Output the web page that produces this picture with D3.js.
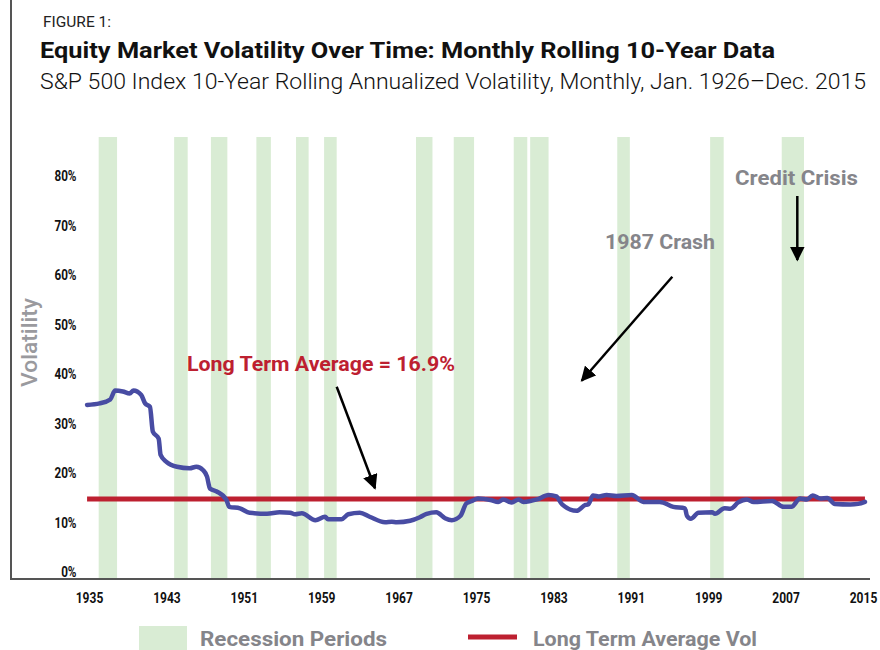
<!DOCTYPE html>
<html>
<head>
<meta charset="utf-8">
<script src="https://cdn.jsdelivr.net/npm/d3@7"></script>
<style>
  html, body { margin: 0; padding: 0; background: #fff; }
  svg { display: block; font-family: Roboto, "Noto Sans", sans-serif; }
</style>
</head>
<body>
<svg id="chart" width="880" height="650"></svg>
<script>
// ---------- DATA ----------
const xTickYears = [1935, 1943, 1951, 1959, 1967, 1975, 1983, 1991, 1999, 2007, 2015];
const yTickValues = [0, 0.1, 0.2, 0.3, 0.4, 0.5, 0.6, 0.7, 0.8];

const recessionStarts = [1936.0, 1943.8, 1947.6, 1952.3, 1956.4, 1959.3, 1968.8, 1972.7, 1978.9, 1980.6, 1989.6, 1999.2, 2006.6];
const recessionEnds   = [1937.9, 1945.2, 1949.3, 1953.8, 1957.7, 1960.6, 1970.5, 1974.8, 1980.3, 1982.5, 1990.9, 2000.6, 2008.9];

const volYears = [1934.8, 1936.1, 1937.2, 1937.7, 1938.5, 1939.2, 1939.6, 1940.4, 1940.8, 1941.3,
  1941.6, 1942.2, 1942.4, 1943.0, 1944.1, 1945.4, 1946.1, 1946.8, 1947.2, 1947.5,
  1948.2, 1949.2, 1949.5, 1950.6, 1951.6, 1953.4, 1954.7, 1955.8, 1956.3, 1957.0,
  1958.4, 1959.4, 1959.7, 1961.1, 1961.8, 1963.0, 1964.0, 1965.6, 1966.3, 1966.8,
  1968.2, 1969.2, 1969.9, 1970.9, 1971.8, 1972.5, 1973.4, 1974.0, 1974.6, 1975.2,
  1976.5, 1977.3, 1977.8, 1978.7, 1979.4, 1979.9, 1981.3, 1982.5, 1983.3, 1983.9,
  1985.4, 1986.3, 1986.6, 1987.1, 1987.7, 1988.5, 1989.5, 1991.1, 1992.3, 1994.0,
  1995.4, 1996.6, 1996.8, 1997.2, 1998.0, 1999.4, 1999.7, 2000.7, 2001.3, 2002.1,
  2003.0, 2003.7, 2005.6, 2006.8, 2007.6, 2008.5, 2009.2, 2009.8, 2010.6, 2011.3,
  2012.1, 2013.7, 2014.5, 2015.2];
const volValues = [33.7, 34.0, 34.8, 36.6, 36.4, 36.0, 36.6, 35.7, 34.0, 33.3,
  28.3, 26.9, 23.6, 22.2, 21.2, 20.9, 21.2, 20.5, 19.2, 16.8,
  16.2, 14.5, 13.1, 12.8, 11.9, 11.7, 12.0, 11.9, 11.6, 11.8,
  10.4, 11.1, 10.6, 10.6, 11.6, 11.9, 11.1, 10.0, 10.1, 10.0,
  10.3, 11.0, 11.7, 12.0, 10.8, 10.4, 11.3, 13.8, 14.3, 14.8,
  14.5, 14.1, 14.6, 14.0, 14.6, 14.1, 14.6, 15.5, 15.2, 13.6,
  12.3, 13.5, 13.6, 15.4, 15.2, 15.5, 15.3, 15.5, 14.1, 14.1,
  13.1, 12.8, 11.3, 10.7, 11.9, 12.0, 11.7, 12.8, 12.7, 14.0,
  14.6, 14.1, 14.3, 13.1, 13.1, 14.8, 14.6, 15.4, 14.8, 14.9,
  13.7, 13.6, 13.7, 14.1];

const avgLinePct = 14.7;          // drawn level of the average line
const avgLabel = "Long Term Average = 16.9%";

// ---------- LAYOUT ----------
const svg = d3.select("#chart");
const x = d3.scaleLinear().domain([1935, 2015]).range([89, 863]);
const y = d3.scaleLinear().domain([0, 0.8]).range([571.7, 175.7]);
const axisY = 579, barTop = 137;

const green = "#d9ecd4", blue = "#484ca3", red = "#bd2030", grey = "#85858a";

function squeeze(sel, f) {
  sel.each(function () {
    const w = this.getComputedTextLength();
    d3.select(this).attr("textLength", w * f).attr("lengthAdjust", "spacingAndGlyphs");
  });
}

// Titles
svg.append("text").attr("x", 43).attr("y", 26.5).attr("font-size", 15)
  .attr("fill", "#222").attr("textLength", 68).attr("lengthAdjust", "spacingAndGlyphs")
  .text("FIGURE 1:");
svg.append("text").attr("x", 40).attr("y", 57.5).attr("font-size", 21.5).attr("font-weight", 700)
  .attr("fill", "#111").attr("textLength", 735).attr("lengthAdjust", "spacingAndGlyphs")
  .text("Equity Market Volatility Over Time: Monthly Rolling 10-Year Data");
svg.append("text").attr("x", 40).attr("y", 89.3).attr("font-size", 21.5).attr("font-weight", 300)
  .attr("fill", "#111").attr("textLength", 826).attr("lengthAdjust", "spacingAndGlyphs")
  .text("S&P 500 Index 10-Year Rolling Annualized Volatility, Monthly, Jan. 1926\u2013Dec. 2015");

// Recession bars
const recessions = recessionStarts.map((s, i) => ({ s, e: recessionEnds[i] }));
svg.append("g").selectAll("rect").data(recessions).join("rect")
  .attr("x", d => x(d.s)).attr("width", d => x(d.e) - x(d.s))
  .attr("y", barTop).attr("height", axisY - barTop)
  .attr("fill", green);

// Frame lines
svg.append("line").attr("x1", 11).attr("x2", 11).attr("y1", 0).attr("y2", axisY)
  .attr("stroke", "#555").attr("stroke-width", 2);
svg.append("line").attr("x1", 10).attr("x2", 870).attr("y1", axisY).attr("y2", axisY)
  .attr("stroke", "#555").attr("stroke-width", 2);

// Y axis
const yAxis = d3.axisLeft(y).tickValues(yTickValues).tickSize(0).tickPadding(0)
  .tickFormat(d3.format(".0%"));
const gy = svg.append("g").attr("transform", "translate(76.5,0)").call(yAxis);
gy.select(".domain").remove();
gy.selectAll("text").attr("font-size", 15).attr("font-weight", 700).attr("fill", "#111")
  .attr("font-family", "Roboto, sans-serif").call(squeeze, 0.78);

// X axis
const xAxis = d3.axisBottom(x).tickValues(xTickYears).tickSize(0).tickPadding(13.5)
  .tickFormat(d3.format("d"));
const gx = svg.append("g").attr("transform", `translate(0,${axisY})`).call(xAxis);
gx.select(".domain").remove();
gx.selectAll("text").attr("font-size", 15).attr("font-weight", 700).attr("fill", "#111")
  .attr("font-family", "Roboto, sans-serif").call(squeeze, 0.8);

// Y title
svg.append("text").attr("transform", "translate(37,342.5) rotate(-90)")
  .attr("text-anchor", "middle").attr("font-size", 22).attr("font-weight", 500)
  .attr("fill", "#9a9a9e").attr("textLength", 89).attr("lengthAdjust", "spacingAndGlyphs")
  .text("Volatility");

// Average line
svg.append("line")
  .attr("x1", x(volYears[0])).attr("x2", x(volYears[volYears.length - 1]))
  .attr("y1", y(avgLinePct / 100)).attr("y2", y(avgLinePct / 100))
  .attr("stroke", red).attr("stroke-width", 5);

// Volatility line
const series = volYears.map((yr, i) => ({ yr, v: volValues[i] / 100 }));
svg.append("path").datum(series)
  .attr("d", d3.line().x(d => x(d.yr)).y(d => y(d.v)).curve(d3.curveMonotoneX))
  .attr("fill", "none").attr("stroke", blue).attr("stroke-width", 4.5)
  .attr("stroke-linejoin", "round").attr("stroke-linecap", "round");

// Arrowheads
svg.append("defs").append("marker").attr("id", "arrow")
  .attr("viewBox", "0 0 10 10").attr("refX", 9).attr("refY", 5)
  .attr("markerWidth", 6).attr("markerHeight", 6).attr("markerUnits", "strokeWidth")
  .attr("orient", "auto")
  .append("path").attr("d", "M0,0 L10,5 L0,10 z").attr("fill", "#000");

const arrows = [
  [336.7, 386.7, 375, 488.3],
  [672.3, 276.7, 581.7, 380.7],
  [797.3, 196, 797.3, 260]
];
svg.append("g").selectAll("line").data(arrows).join("line")
  .attr("x1", d => d[0]).attr("y1", d => d[1]).attr("x2", d => d[2]).attr("y2", d => d[3])
  .attr("stroke", "#000").attr("stroke-width", 2.5).attr("marker-end", "url(#arrow)");

// Annotations
svg.append("text").attr("x", 187).attr("y", 371).attr("font-size", 19.5).attr("font-weight", 700)
  .attr("fill", red).attr("textLength", 268).attr("lengthAdjust", "spacingAndGlyphs").text(avgLabel);
svg.append("text").attr("x", 605).attr("y", 249).attr("font-size", 19.5).attr("font-weight", 700)
  .attr("fill", grey).attr("textLength", 110).attr("lengthAdjust", "spacingAndGlyphs").text("1987 Crash");
svg.append("text").attr("x", 735).attr("y", 185).attr("font-size", 19.5).attr("font-weight", 700)
  .attr("fill", grey).attr("textLength", 123).attr("lengthAdjust", "spacingAndGlyphs").text("Credit Crisis");

// Legend
svg.append("rect").attr("x", 139).attr("y", 626).attr("width", 48).attr("height", 26).attr("fill", green);
svg.append("text").attr("x", 200).attr("y", 646).attr("font-size", 20.5).attr("font-weight", 700)
  .attr("fill", grey).attr("textLength", 187).attr("lengthAdjust", "spacingAndGlyphs").text("Recession Periods");
svg.append("line").attr("x1", 468).attr("x2", 517).attr("y1", 637).attr("y2", 637)
  .attr("stroke", red).attr("stroke-width", 5);
svg.append("text").attr("x", 533).attr("y", 646).attr("font-size", 20.5).attr("font-weight", 700)
  .attr("fill", grey).attr("textLength", 224).attr("lengthAdjust", "spacingAndGlyphs").text("Long Term Average Vol");
</script>
</body>
</html>
